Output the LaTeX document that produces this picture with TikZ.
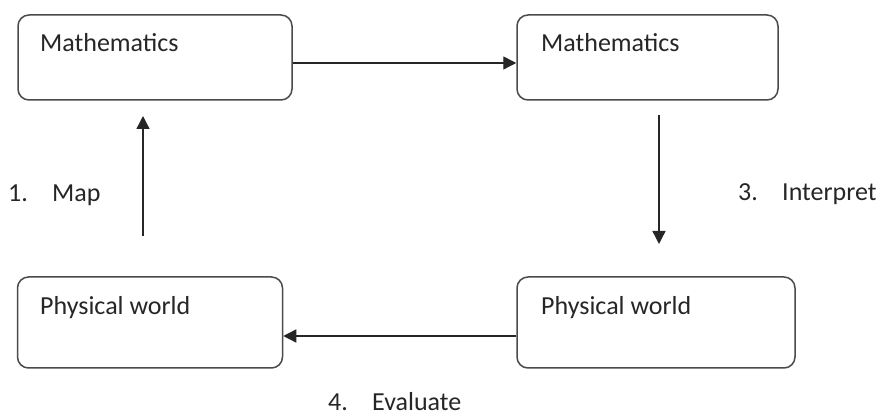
\documentclass[tikz,border=0pt]{standalone}
\usepackage{fontspec}
\setmainfont{Carlito}
\usetikzlibrary{arrows.meta}
\definecolor{boxline}{HTML}{4A4A4A}
\definecolor{txt}{HTML}{262626}
\tikzset{
  box/.style={draw=boxline, line width=1.5pt, rounded corners=11pt, inner sep=0pt},
  boxtext/.style={anchor=base west, inner sep=0pt, text=txt, font=\fontsize{26}{30}\selectfont},
  lab/.style={anchor=base west, inner sep=0pt, text=txt, font=\fontsize{26}{30}\selectfont},
  arr/.style={draw=black!85, line width=1.4pt, -{Triangle[length=13pt,width=13pt]}}
}
\begin{document}
\begin{tikzpicture}[x=1pt,y=-1pt]
\useasboundingbox (0,0) rectangle (881,419);
% boxes
\node[box, minimum width=274pt, minimum height=85pt] (m1) at (155,57.5) {};
\node[box, minimum width=261pt, minimum height=85pt] (m2) at (647.5,57.5) {};
\node[box, minimum width=265pt, minimum height=91pt] (p1) at (150,322.5) {};
\node[box, minimum width=278pt, minimum height=91pt] (p2) at (656,322.5) {};
% box texts
\node[boxtext] (t1) at (40,52) {Mathematics};
\node[boxtext] (t2) at (541,52) {Mathematics};
\node[boxtext] (t3) at (40,315) {Physical world};
\node[boxtext] (t4) at (541,315) {Physical world};
% arrow end coordinates
\coordinate (a1s) at (143,236);
\coordinate (a1e) at (143,116);
\coordinate (a3s) at (659,115);
\coordinate (a3e) at (659,244);
% connectors
\draw[arr] (m1.east |- 0,63) -- (m2.west |- 0,63);
\draw[arr] (a1s) -- (a1e);
\draw[arr] (a3s) -- (a3e);
\draw[arr] (p2.west |- 0,336) -- (p1.east |- 0,336);
% labels
\node[lab] (n1) at (8,202) {1.};
\node[lab] (l1) at (52,202) {Map};
\node[lab] (n3) at (738,201) {3.};
\node[lab] (l3) at (782,201) {Interpret};
\node[lab] (n4) at (328,411) {4.};
\node[lab] (l4) at (372,411) {Evaluate};
\end{tikzpicture}
\end{document}
